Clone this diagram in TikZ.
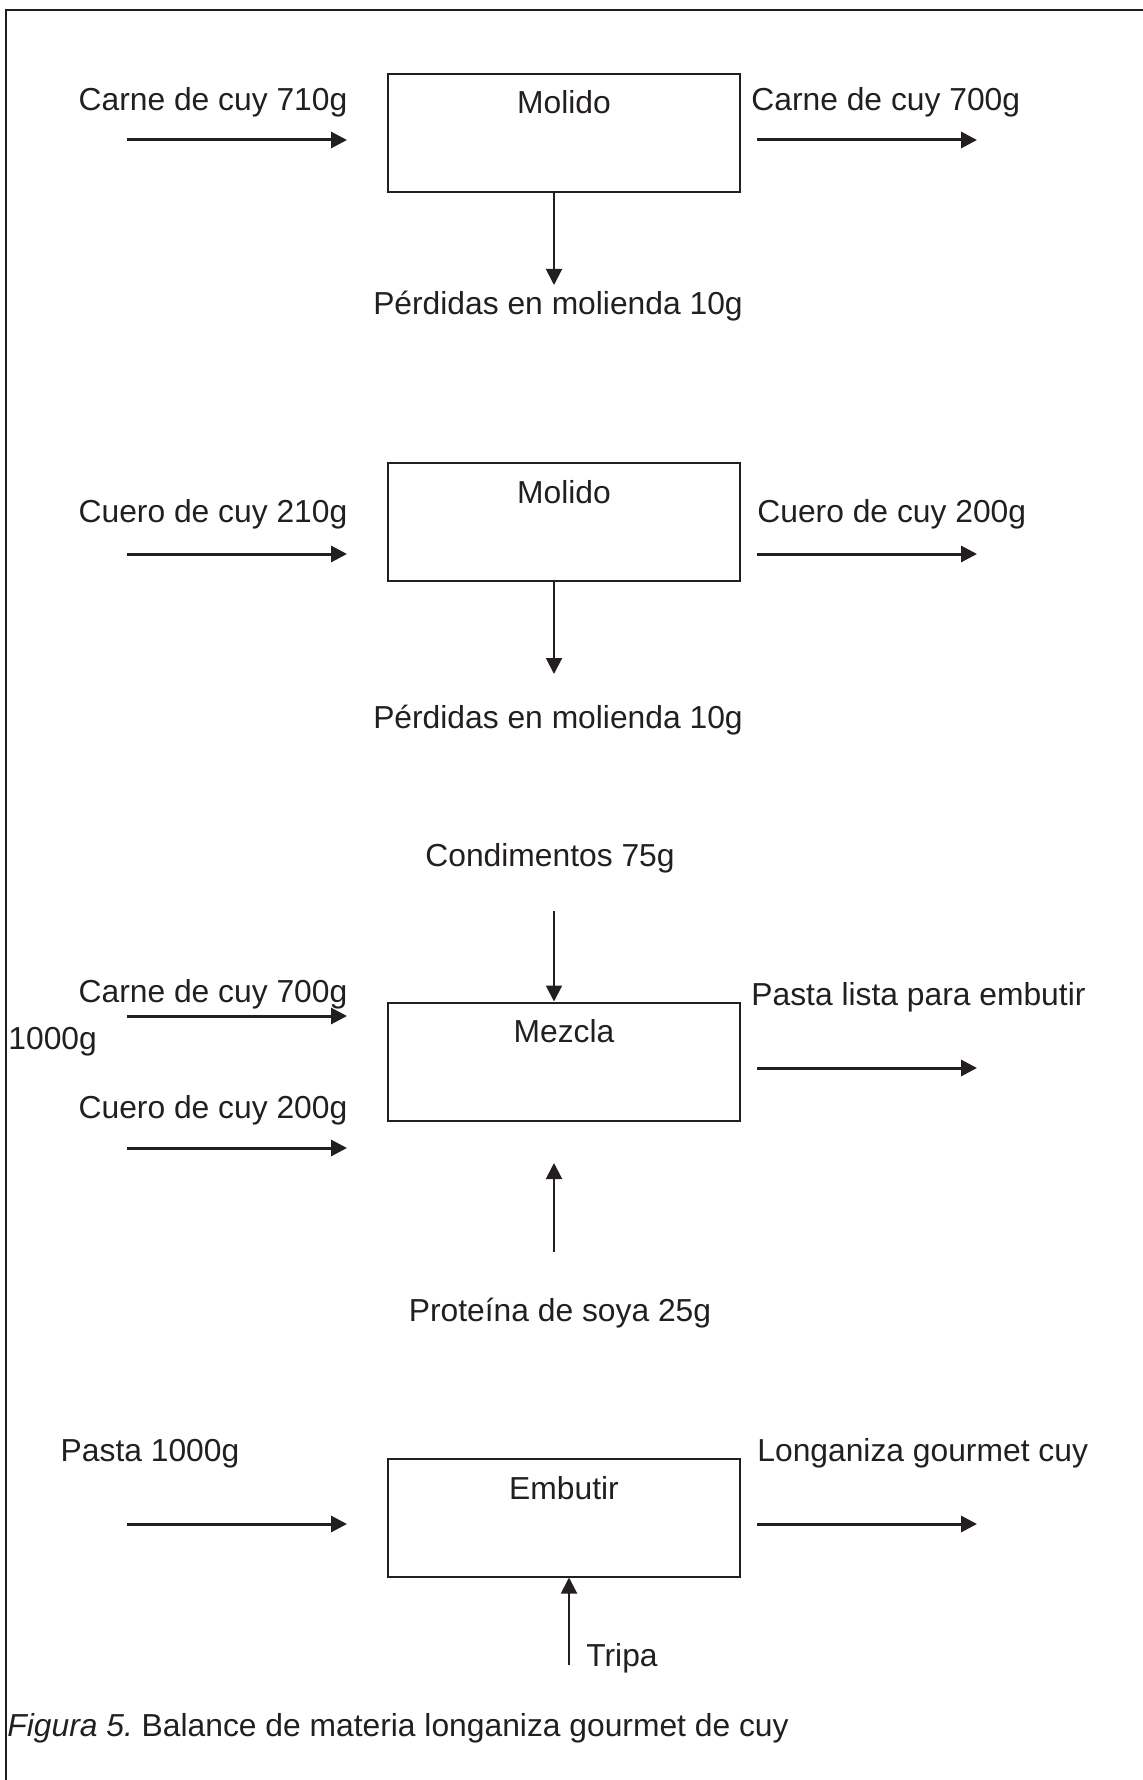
\documentclass[tikz,border=0pt]{standalone}
\usepackage{fontspec}
\setmainfont{Liberation Sans}
\usetikzlibrary{arrows.meta,positioning}
\definecolor{ink}{RGB}{35,31,32}

\begin{document}
\begin{tikzpicture}[x=0.5pt, y=-0.5pt, >={Triangle[length=8pt,width=8pt]},
  font=\fontsize{15.9}{19}\selectfont, color=ink,
  proc/.style={draw, line width=1pt, minimum width=176pt, minimum height=59pt, inner sep=0pt},
  txt/.style={inner sep=0pt, text height=11.4pt, text depth=3.3pt},
  hflow/.style={->, line width=1.5pt},
  vflow/.style={->, line width=1pt}]
\useasboundingbox (0,0) rectangle (1143,1780);
\draw[line width=0.7pt] (6,1780) -- (6,10) -- (1143,10);

% molido carne
\node[proc] (1) at (564,133) {};
\node[txt, below=8.5pt of 1.north] (1t) {Molido};
\node[txt] (1a) at (213,102) {Carne de cuy 710g};
\node[txt, anchor=west] (1b) at (751,102) {Carne de cuy 700g};
\node[txt] (1c) at (558,306) {Pérdidas en molienda 10g};
\coordinate (1i) at (127,140);
\coordinate (1j) at (347,140);
\coordinate (1o) at (757,140);
\coordinate (1p) at (977,140);
\coordinate (1d) at (554,285);
\path (1i) edge[hflow] (1j)
      (1o) edge[hflow] (1p)
      (1d |- 1.south) edge[vflow] (1d);

% molido cuero
\node[proc] (2) at (564,522) {};
\node[txt, below=9pt of 2.north] (2t) {Molido};
\node[txt] (2a) at (213,514) {Cuero de cuy 210g};
\node[txt, anchor=west] (2b) at (757,514) {Cuero de cuy 200g};
\node[txt] (2c) at (558,720) {Pérdidas en molienda 10g};
\coordinate (2i) at (127,554);
\coordinate (2j) at (347,554);
\coordinate (2o) at (757,554);
\coordinate (2p) at (977,554);
\coordinate (2d) at (554,674);
\path (2i) edge[hflow] (2j)
      (2o) edge[hflow] (2p)
      (2d |- 2.south) edge[vflow] (2d);

% mezcla
\node[proc] (3) at (564,1061.5) {};
\node[txt, below=9pt of 3.north] (3t) {Mezcla};
\node[txt] (3u) at (550,858) {Condimentos 75g};
\node[txt] (3a) at (213,994) {Carne de cuy 700g};
\node[txt, anchor=west] (3k) at (8,1041) {1000g};
\node[txt] (3b) at (213,1110) {Cuero de cuy 200g};
\node[txt, anchor=west] (3c) at (751,997) {Pasta lista para embutir};
\node[txt] (3s) at (560,1313) {Proteína de soya 25g};
\coordinate (3e) at (554,911);
\coordinate (3i) at (127,1016);
\coordinate (3j) at (347,1016);
\coordinate (3m) at (127,1148);
\coordinate (3n) at (347,1148);
\coordinate (3o) at (757,1068);
\coordinate (3p) at (977,1068);
\coordinate (3v) at (554,1252);
\coordinate (3w) at (554,1163);
\path (3e) edge[vflow] (3e |- 3.north)
      (3i) edge[hflow] (3j)
      (3m) edge[hflow] (3n)
      (3o) edge[hflow] (3p)
      (3v) edge[vflow] (3w);

% embutir
\node[proc] (4) at (564,1517.5) {};
\node[txt, below=9.5pt of 4.north] (4t) {Embutir};
\node[txt] (4a) at (150,1453) {Pasta 1000g};
\node[txt, anchor=west] (4b) at (757,1453) {Longaniza gourmet cuy};
\node[txt] (4c) at (622,1658) {Tripa};
\coordinate (4i) at (127,1524);
\coordinate (4j) at (347,1524);
\coordinate (4o) at (757,1524);
\coordinate (4p) at (977,1524);
\coordinate (4v) at (569,1665);
\path (4i) edge[hflow] (4j)
      (4o) edge[hflow] (4p)
      (4v) edge[vflow] (4v |- 4.south);

\node[txt, anchor=west] (cap) at (7,1728) {{\itshape Figura 5.}\ Balance de materia longaniza gourmet de cuy};
\end{tikzpicture}
\end{document}
